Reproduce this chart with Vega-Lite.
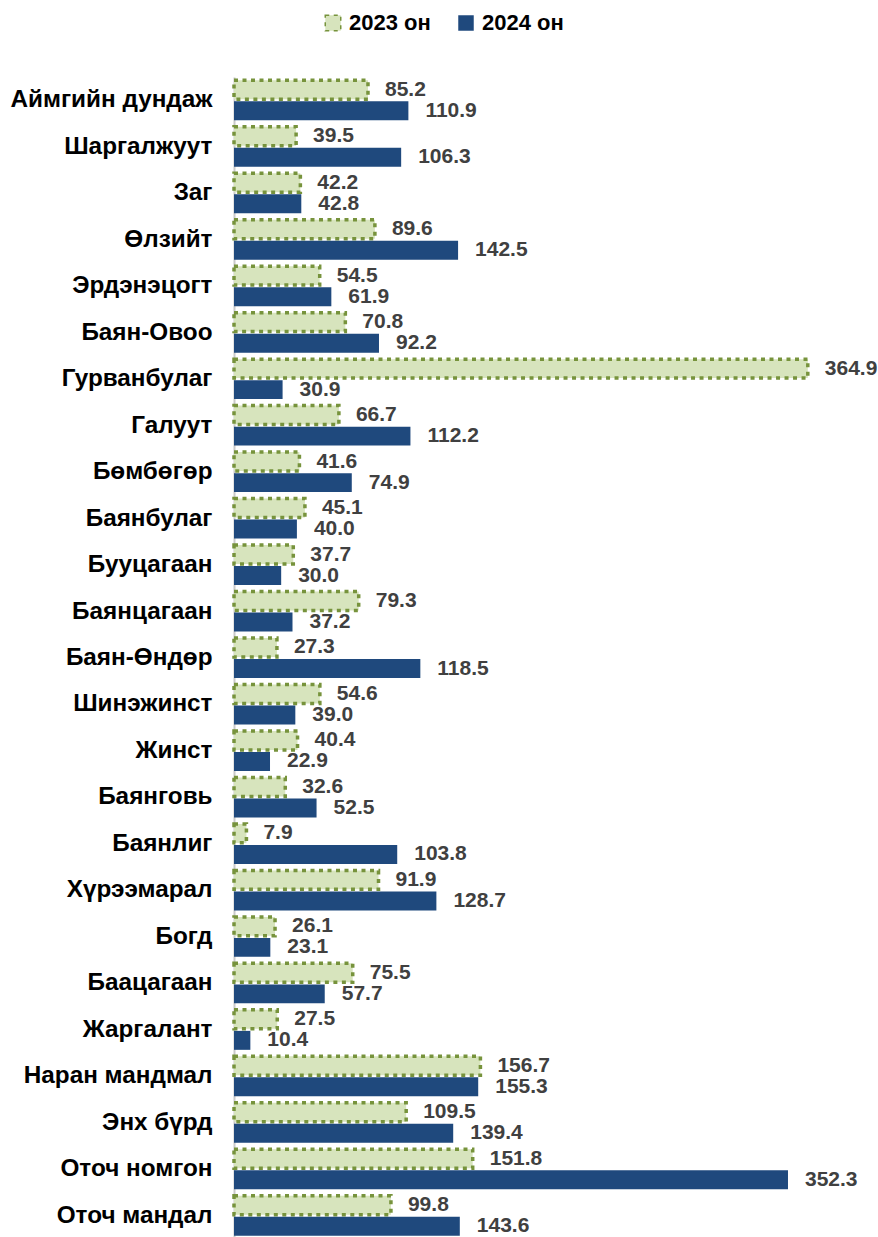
{
  "$schema": "https://vega.github.io/schema/vega-lite/v6.json",
  "autosize": {"type": "none"},
  "padding": {"left": 234, "top": 77, "right": 15, "bottom": 0},
  "width": 629,
  "height": 1162,
  "background": "white",
  "config": {
    "view": {"stroke": null},
    "font": "Liberation Sans",
    "legend": {
      "orient": "none",
      "legendX": 88,
      "legendY": -65,
      "direction": "horizontal",
      "title": null,
      "labelFont": "Liberation Sans",
      "labelFontSize": 22,
      "labelFontWeight": "bold",
      "labelColor": "#000000",
      "symbolType": "square",
      "symbolSize": 240,
      "labelOffset": 5,
      "columnPadding": 24
    }
  },
  "data": {
    "values": [
      {"name": "Аймгийн дундаж", "year": "2023 он", "value": 85.2},
      {"name": "Аймгийн дундаж", "year": "2024 он", "value": 110.9},
      {"name": "Шаргалжуут", "year": "2023 он", "value": 39.5},
      {"name": "Шаргалжуут", "year": "2024 он", "value": 106.3},
      {"name": "Заг", "year": "2023 он", "value": 42.2},
      {"name": "Заг", "year": "2024 он", "value": 42.8},
      {"name": "Өлзийт", "year": "2023 он", "value": 89.6},
      {"name": "Өлзийт", "year": "2024 он", "value": 142.5},
      {"name": "Эрдэнэцогт", "year": "2023 он", "value": 54.5},
      {"name": "Эрдэнэцогт", "year": "2024 он", "value": 61.9},
      {"name": "Баян-Овоо", "year": "2023 он", "value": 70.8},
      {"name": "Баян-Овоо", "year": "2024 он", "value": 92.2},
      {"name": "Гурванбулаг", "year": "2023 он", "value": 364.9},
      {"name": "Гурванбулаг", "year": "2024 он", "value": 30.9},
      {"name": "Галуут", "year": "2023 он", "value": 66.7},
      {"name": "Галуут", "year": "2024 он", "value": 112.2},
      {"name": "Бөмбөгөр", "year": "2023 он", "value": 41.6},
      {"name": "Бөмбөгөр", "year": "2024 он", "value": 74.9},
      {"name": "Баянбулаг", "year": "2023 он", "value": 45.1},
      {"name": "Баянбулаг", "year": "2024 он", "value": 40.0},
      {"name": "Бууцагаан", "year": "2023 он", "value": 37.7},
      {"name": "Бууцагаан", "year": "2024 он", "value": 30.0},
      {"name": "Баянцагаан", "year": "2023 он", "value": 79.3},
      {"name": "Баянцагаан", "year": "2024 он", "value": 37.2},
      {"name": "Баян-Өндөр", "year": "2023 он", "value": 27.3},
      {"name": "Баян-Өндөр", "year": "2024 он", "value": 118.5},
      {"name": "Шинэжинст", "year": "2023 он", "value": 54.6},
      {"name": "Шинэжинст", "year": "2024 он", "value": 39.0},
      {"name": "Жинст", "year": "2023 он", "value": 40.4},
      {"name": "Жинст", "year": "2024 он", "value": 22.9},
      {"name": "Баянговь", "year": "2023 он", "value": 32.6},
      {"name": "Баянговь", "year": "2024 он", "value": 52.5},
      {"name": "Баянлиг", "year": "2023 он", "value": 7.9},
      {"name": "Баянлиг", "year": "2024 он", "value": 103.8},
      {"name": "Хүрээмарал", "year": "2023 он", "value": 91.9},
      {"name": "Хүрээмарал", "year": "2024 он", "value": 128.7},
      {"name": "Богд", "year": "2023 он", "value": 26.1},
      {"name": "Богд", "year": "2024 он", "value": 23.1},
      {"name": "Баацагаан", "year": "2023 он", "value": 75.5},
      {"name": "Баацагаан", "year": "2024 он", "value": 57.7},
      {"name": "Жаргалант", "year": "2023 он", "value": 27.5},
      {"name": "Жаргалант", "year": "2024 он", "value": 10.4},
      {"name": "Наран мандмал", "year": "2023 он", "value": 156.7},
      {"name": "Наран мандмал", "year": "2024 он", "value": 155.3},
      {"name": "Энх бүрд", "year": "2023 он", "value": 109.5},
      {"name": "Энх бүрд", "year": "2024 он", "value": 139.4},
      {"name": "Оточ номгон", "year": "2023 он", "value": 151.8},
      {"name": "Оточ номгон", "year": "2024 он", "value": 352.3},
      {"name": "Оточ мандал", "year": "2023 он", "value": 99.8},
      {"name": "Оточ мандал", "year": "2024 он", "value": 143.6}
    ]
  },
  "encoding": {
    "y": {
      "field": "name",
      "type": "nominal",
      "sort": null,
      "scale": {"paddingInner": 0.14, "paddingOuter": 0.07},
      "axis": {
        "title": null,
        "ticks": false,
        "tickSize": 0,
        "labelPadding": 22,
        "labelFont": "Liberation Sans",
        "labelFontSize": 24.3,
        "labelFontWeight": "bold",
        "labelColor": "#000000",
        "labelLimit": 300,
        "domainColor": "#C9C9C9",
        "domainWidth": 2,
        "grid": false
      }
    },
    "yOffset": {
      "field": "year",
      "type": "nominal",
      "sort": ["2023 он", "2024 он"],
      "scale": {"paddingInner": 0.1, "paddingOuter": 0}
    },
    "x": {
      "field": "value",
      "type": "quantitative",
      "scale": {"domain": [0, 400], "nice": false},
      "axis": null
    }
  },
  "layer": [
    {
      "mark": {"type": "bar", "strokeWidth": 3.5, "strokeCap": "butt", "cornerRadius": 0},
      "encoding": {
        "fill": {
          "field": "year",
          "type": "nominal",
          "scale": {"domain": ["2023 он", "2024 он"], "range": ["#D7E4BD", "#1F497D"]}
        },
        "stroke": {
          "field": "year",
          "type": "nominal",
          "scale": {"domain": ["2023 он", "2024 он"], "range": ["#77933C", "transparent"]}
        },
        "strokeDash": {
          "field": "year",
          "type": "nominal",
          "scale": {"domain": ["2023 он", "2024 он"], "range": [[4, 4.5], [1, 0]]}
        }
      }
    },
    {
      "mark": {
        "type": "text",
        "align": "left",
        "baseline": "middle",
        "dx": 17,
        "font": "Liberation Sans",
        "fontSize": 21,
        "fontWeight": "bold",
        "color": "#404040"
      },
      "encoding": {
        "text": {"field": "value", "type": "quantitative", "format": ".1f"}
      }
    }
  ]
}
